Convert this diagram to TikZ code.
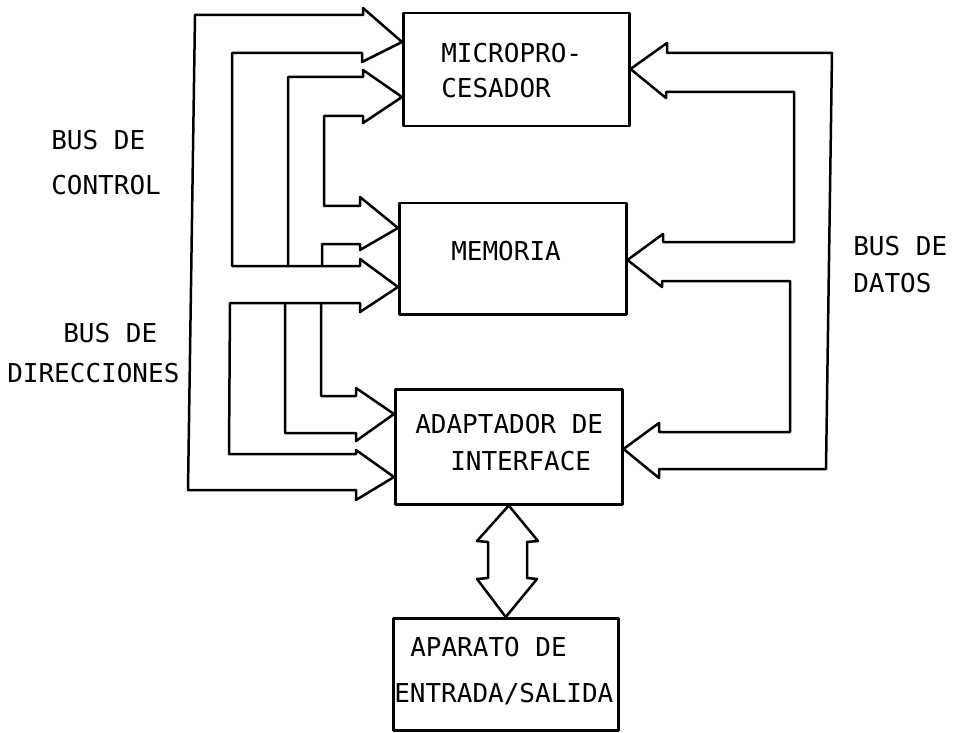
\documentclass[tikz,border=0pt]{standalone}
\usepackage{fontspec}
\newfontfamily\labfont{DejaVu Sans Mono}
\begin{document}
\begin{tikzpicture}[x=1pt,y=-1pt,line width=2.5pt,line join=round,
  box/.style={draw,anchor=north west,inner sep=0pt},
  lab/.style={font=\labfont\fontsize{26}{30}\selectfont,inner sep=0pt,anchor=base west},
  bus/.style={draw}]
\useasboundingbox (0,0) rectangle (954,733);
% blocks
\node[box,minimum width=226pt,minimum height=113pt] (micro) at (402,12) {};
\node[box,minimum width=227pt,minimum height=111pt] (mem) at (398,202) {};
\node[box,minimum width=227pt,minimum height=115pt] (adap) at (394,388) {};
\node[box,minimum width=225pt,minimum height=112pt] (io) at (392,617) {};
% texts
\node[lab] (tmicroA) at (440,63) {MICROPRO-};
\node[lab] (tmicroB) at (440,98) {CESADOR};
\node[lab] (tmem) at (450,260) {MEMORIA};
\node[lab] (tadapA) at (414,433) {ADAPTADOR DE};
\node[lab] (tadapB) at (449,470) {INTERFACE};
\node[lab] (tioA) at (409,656) {APARATO DE};
\node[lab] (tioB) at (393,702) {ENTRADA/SALIDA};
\node[lab] (tctlA) at (50,150) {BUS DE};
\node[lab] (tctlB) at (50,195) {CONTROL};
\node[lab] (tdirA) at (62,342) {BUS DE};
\node[lab] (tdirB) at (6,382) {DIRECCIONES};
\node[lab] (tdatA) at (852,255) {BUS DE};
\node[lab] (tdatB) at (852,292) {DATOS};
% arrow tips on the blocks
\coordinate (mA) at (micro.west |- 0,42);
\coordinate (mB) at (micro.west |- 0,97);
\coordinate (eC) at (mem.west |- 0,228);
\coordinate (eD) at (mem.west |- 0,287);
\coordinate (aE) at (adap.west |- 0,414);
\coordinate (aF) at (adap.west |- 0,477);
\coordinate (mR) at (micro.east |- 0,69);
\coordinate (eR) at (mem.east |- 0,260);
\coordinate (aR) at (adap.east |- 0,449);
% outer left bus
\draw[bus] (mA) -- (362,62) -- (362,53) -- (232,53) -- (232,266) -- (360,266)
  -- (360,259) -- (eD) -- (360,312) -- (360,303) -- (230,303) -- (229,454)
  -- (356,454) -- (356,450) -- (aF) -- (356,500) -- (356,490) -- (188,490)
  -- (195,15) -- (363,15) -- (363,8) -- cycle;
% inner left bus
\draw[bus] (288,266) -- (288,77) -- (363,77) -- (363,70) -- (mB) -- (363,123)
  -- (363,116) -- (324,116) -- (324,206) -- (360,206) -- (360,197) -- (eC)
  -- (360,250) -- (360,244) -- (322,244) -- (322,266);
\draw[bus] (285,303) -- (285,433) -- (356,433) -- (356,441) -- (aE)
  -- (356,388) -- (356,396) -- (321,396) -- (321,303);
% data bus
\draw[bus] (832,53) -- (667,53) -- (667,43) -- (mR) -- (666,98) -- (666,92)
  -- (794,92) -- (794,242) -- (663,242) -- (663,234) -- (eR) -- (662,287)
  -- (662,281) -- (790,281) -- (790,432) -- (659,432) -- (659,423) -- (aR)
  -- (659,478) -- (659,469) -- (826,469) -- cycle;
% double arrow adapter <-> I/O
\draw[bus] (adap.south) -- (538,541) -- (527,542) -- (527,578) -- (537,579)
  -- (io.north) -- (477,579) -- (488,578) -- (488,542) -- (477,541) -- cycle;
\end{tikzpicture}
\end{document}
